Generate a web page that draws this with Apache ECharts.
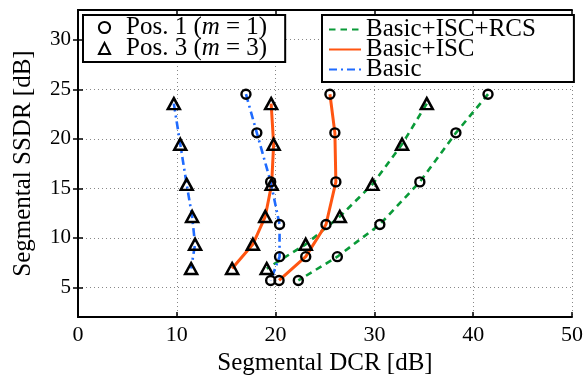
<!DOCTYPE html>
<html><head><meta charset="utf-8">
<script src="https://cdn.jsdelivr.net/npm/echarts@6/dist/echarts.min.js"></script>
<style>html,body{margin:0;padding:0;background:#fff}#c{width:586px;height:381px}</style>
</head><body><div id="c"></div>
<script>
// SSDR levels (y) for each loudspeaker position
const pos1Ssdr = [24.5, 20.6, 15.65, 11.35, 8.1, 5.7];
const pos3Ssdr = [23.55, 19.45, 15.4, 12.15, 9.35, 6.9];
// DCR values (x) per method and position
const rcsPos1Dcr = [41.5, 38.25, 34.6, 30.55, 26.25, 22.3];
const rcsPos3Dcr = [35.3, 32.8, 29.8, 26.5, 23.05, 19.1];
const iscPos1Dcr = [25.5, 26.0, 26.1, 25.1, 23.05, 20.35];
const iscPos3Dcr = [19.55, 19.8, 19.6, 18.95, 17.7, 15.6];
const basicPos1Dcr = [17.0, 18.1, 19.5, 20.4, 20.4, 19.5];
const basicPos3Dcr = [9.7, 10.35, 11.0, 11.55, 11.85, 11.45];
// tick labels
const ssdrTicks = [5, 10, 15, 20, 25, 30];
const dcrTicks = [0, 10, 20, 30, 40, 50];
const methods = ['Basic+ISC+RCS', 'Basic+ISC', 'Basic'];
const positions = ['Pos. 1 (m=1)', 'Pos. 3 (m=3)'];

const FONT = 'Liberation Serif';
const zip = (xs, ys) => xs.map((x, i) => [x, ys[i]]);

const methodStyle = {
  'Basic+ISC+RCS': { color: '#0a9a38', width: 2.6, type: [6.5, 5] },
  'Basic+ISC': { color: '#ff5511', width: 3, type: 'solid' },
  'Basic': { color: '#1f6bff', width: 2.6, type: [8, 4, 2, 4] }
};
const methodData = {
  'Basic+ISC+RCS': [zip(rcsPos1Dcr, pos1Ssdr), zip(rcsPos3Dcr, pos3Ssdr)],
  'Basic+ISC': [zip(iscPos1Dcr, pos1Ssdr), zip(iscPos3Dcr, pos3Ssdr)],
  'Basic': [zip(basicPos1Dcr, pos1Ssdr), zip(basicPos3Dcr, pos3Ssdr)]
};

const series = [];
methods.forEach(m => {
  methodData[m].forEach(d => {
    series.push({
      type: 'line', name: m, data: d, symbol: 'none', silent: true,
      lineStyle: { color: methodStyle[m].color, width: methodStyle[m].width, type: methodStyle[m].type },
      itemStyle: { color: methodStyle[m].color }, z: 2
    });
  });
});
const pos1All = [].concat(zip(rcsPos1Dcr, pos1Ssdr), zip(iscPos1Dcr, pos1Ssdr), zip(basicPos1Dcr, pos1Ssdr));
const pos3All = [].concat(zip(rcsPos3Dcr, pos3Ssdr), zip(iscPos3Dcr, pos3Ssdr), zip(basicPos3Dcr, pos3Ssdr));
series.push({
  type: 'line', name: positions[0], data: pos1All, symbol: 'circle', symbolSize: 9, showAllSymbol: true,
  lineStyle: { opacity: 0, width: 0 }, silent: true,
  itemStyle: { color: 'rgba(255,255,255,0)', borderColor: '#000', borderWidth: 2.4 }, z: 5
});
series.push({
  type: 'line', name: positions[1], data: pos3All, symbol: 'triangle', symbolSize: [12, 11], showAllSymbol: true,
  lineStyle: { opacity: 0, width: 0 }, silent: true,
  itemStyle: { color: 'rgba(255,255,255,0)', borderColor: '#000', borderWidth: 2.5 }, z: 5
});

const gridLine = { show: true, lineStyle: { color: '#888', width: 1, type: [1, 3] } };
const tickStyle = { inside: true, length: 5, lineStyle: { color: '#000', width: 1.5 } };
const lineAx = { show: true, lineStyle: { color: '#000', width: 2 } };

const option = {
  backgroundColor: '#fff',
  animation: false,
  grid: { left: 78, right: 13, top: 10, bottom: 63 },
  xAxis: [
    { type: 'value', min: dcrTicks[0], max: dcrTicks[dcrTicks.length - 1], interval: 10, position: 'bottom',
      name: 'Segmental DCR [dB]', nameLocation: 'middle', nameGap: 27,
      nameTextStyle: { fontFamily: FONT, fontSize: 25, color: '#000' },
      axisLine: lineAx, axisTick: tickStyle, splitLine: gridLine,
      axisLabel: { fontFamily: FONT, fontSize: 22, color: '#000', margin: 7 } },
    { type: 'value', min: 0, max: 50, interval: 10, position: 'top',
      axisLine: lineAx, axisTick: tickStyle, splitLine: { show: false }, axisLabel: { show: false } }
  ],
  yAxis: [
    { type: 'value', min: 2, max: 33, position: 'left',
      name: 'Segmental SSDR [dB]', nameLocation: 'middle', nameGap: 42, nameRotate: 90,
      nameTextStyle: { fontFamily: FONT, fontSize: 25, color: '#000' },
      axisLine: lineAx,
      axisTick: Object.assign({ customValues: ssdrTicks }, tickStyle),
      splitLine: gridLine,
      axisLabel: { customValues: ssdrTicks, fontFamily: FONT, fontSize: 21, color: '#000', margin: 7 } },
    { type: 'value', min: 2, max: 33, position: 'right',
      axisLine: lineAx,
      axisTick: Object.assign({ customValues: ssdrTicks }, tickStyle),
      splitLine: { show: false }, axisLabel: { show: false } }
  ],
  legend: [
    { data: positions, left: 83, top: 15, orient: 'vertical', selectedMode: false,
      itemWidth: 33, itemHeight: 14, itemGap: -4, padding: [0, 18, 1, 5],
      borderColor: '#000', borderWidth: 2, backgroundColor: '#fff',
      formatter: n => n === positions[0] ? '{r|Pos. 1 (}{i|m}{r| = 1)}' : '{r|Pos. 3 (}{i|m}{r| = 3)}',
      textStyle: { fontFamily: FONT, fontSize: 25, lineHeight: 20, color: '#000',
        rich: { r: { fontFamily: FONT, fontSize: 25, lineHeight: 20, color: '#000' },
                i: { fontFamily: FONT, fontSize: 25, lineHeight: 20, fontStyle: 'italic', color: '#000' } } } },
    { data: methods, left: 322, top: 15, orient: 'vertical', selectedMode: false,
      itemWidth: 32, itemHeight: 14, itemGap: -5, padding: [2, 38, 0, 6],
      borderColor: '#000', borderWidth: 2, backgroundColor: '#fff',
      itemStyle: { color: 'rgba(0,0,0,0)', borderWidth: 0, opacity: 0 },
      textStyle: { fontFamily: FONT, fontSize: 25, lineHeight: 20, color: '#000' } }
  ],
  series: series
};
const chart = echarts.init(document.getElementById('c'), null, { renderer: 'canvas' });
chart.setOption(option);
</script></body></html>
